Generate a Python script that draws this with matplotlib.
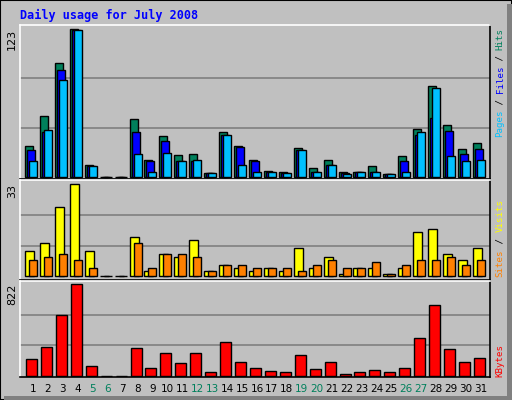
import matplotlib
matplotlib.use("Agg")
import matplotlib.pyplot as plt
from matplotlib.patches import Rectangle

days = list(range(1, 32))
hits  = [26,51,95,123,10,0,0,48,14,34,18,19,3,37,26,14,5,4,24,7,14,4,4,9,2,17,40,76,43,23,28]
files = [22,37,89,122,9,0,0,37,13,30,13,13,3,35,25,13,4,3,22,4,10,3,4,4,2,13,35,49,38,19,23]
pages = [13,39,81,122,9,0,0,19,4,20,13,14,3,35,10,4,4,3,22,4,10,2,4,4,2,4,37,74,17,13,14]
visits = [9,12,25,33,9,0,0,14,2,8,7,13,2,4,3,2,3,2,10,3,7,1,3,3,1,3,16,17,8,6,10]
sites  = [6,7,8,6,3,0,0,12,3,8,8,7,2,4,4,3,3,3,2,4,6,3,3,5,1,4,6,6,7,4,6]
kbytes = [146,254,541,822,84,0,0,245,66,200,111,200,30,299,120,66,39,30,182,57,120,18,30,48,30,66,335,631,236,120,155]
weekend = [5,6,12,13,19,20,26,27]

W, H = 512, 400
fig = plt.figure(figsize=(5.12, 4.0), dpi=100)
fig.patch.set_facecolor("#C0C0C0")
fig.add_artist(Rectangle((0, 0), 1, 1, transform=fig.transFigure, fill=False, ec="black", lw=1.5))
fig.add_artist(Rectangle((507/W, 0), 5/W, 1-4/H, transform=fig.transFigure, color="#808080", lw=0))
fig.add_artist(Rectangle((4/W, 0), 503/W, 4/H, transform=fig.transFigure, color="#808080", lw=0))

PX = 14.93
x0, x1 = 20, 490
xlim = (1 - (33 - x0) / PX, 1 + (x1 - 33) / PX)

def mkax(top, bot, base, maxpx, maxval):
    ax = fig.add_axes([x0/W, 1-bot/H, (x1-x0)/W, (bot-top)/H])
    ax.set_facecolor("#C0C0C0")
    u = (base - maxpx) / maxval
    ax.set_ylim(-(bot - base)/u, (base - top)/u)
    ax.set_xlim(*xlim)
    for g in (maxval/3, 2*maxval/3):
        ax.axhline(g, color="#808080", lw=1.2, zorder=0)
    ax.set_xticks([]); ax.set_yticks([])
    for s in ax.spines.values():
        s.set_color("black"); s.set_linewidth(1.2)
    ax.spines['top'].set_color("white"); ax.spines['left'].set_color("white")
    ax.text(-8/ (x1-x0), 1 - (maxpx-top)/(bot-top), str(maxval), transform=ax.transAxes,
            rotation=90, ha="center", va="top", fontsize=8, family="DejaVu Sans")
    return ax

def bars(ax, vals, off0, off1, color):
    xs = [d + (off0 + off1) / 2 / PX for d in days]
    ax.bar(xs, vals, width=(off1 - off0) / PX, color=color, edgecolor="black", lw=1, zorder=2)

ax1 = mkax(25, 179, 176.7, 29.3, 123)
bars(ax1, hits, -8, 0, "#00805C")
bars(ax1, files, -6, 2, "#0000FF")
bars(ax1, pages, -4, 4, "#00C0FF")

ax2 = mkax(180, 280, 276.3, 184.3, 33)
bars(ax2, visits, -8, 1, "#FFFF00")
bars(ax2, sites, -4, 4, "#FF8000")

ax3 = mkax(281, 377, 375.7, 284, 822)
bars(ax3, kbytes, -7, 4, "#FF0000")

for d in days:
    fig.text((33 + (d-1)*PX)/W, 1-389/H, str(d), ha="center", va="center", fontsize=7.5,
             color="#00805C" if d in weekend else "black")

fig.text(20/W, 1-15/H, "Daily usage for July 2008", ha="left", va="center",
         fontsize=8.5, fontweight="bold", family="DejaVu Sans Mono", color="#0000FF")

def vlabel(parts, ybottom, cw=5.45):
    y = ybottom
    for txt, col in parts:
        fig.text(500/W, 1-y/H, txt, rotation=90, ha="center", va="bottom", fontsize=6.6,
                 family="DejaVu Sans Mono", color=col)
        y -= cw * len(txt)

vlabel([("Pages", "#00C0FF"), (" / ", "black"), ("Files", "#0000FF"), (" / ", "black"), ("Hits", "#00805C")], 137)
vlabel([("Sites", "#FF8000"), (" / ", "black"), ("Visits", "#FFFF00")], 277, 5.6)
vlabel([("KBytes", "#FF0000")], 377)

fig.savefig("out.png", dpi=100, facecolor=fig.get_facecolor())
